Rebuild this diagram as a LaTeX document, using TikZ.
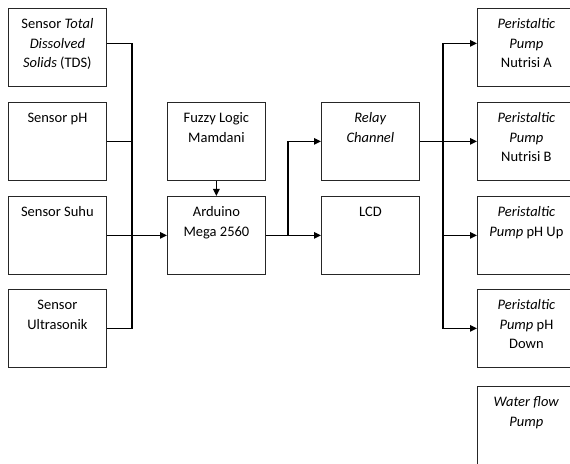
\documentclass[tikz,border=0pt]{standalone}
\usepackage{fontspec}
\setmainfont{Carlito}
\usetikzlibrary{arrows.meta}
\tikzset{
  blok/.style={draw=black!85, line width=0.8pt, inner sep=0pt, anchor=north west},
  garis/.style={line width=1.1pt},
  pijl/.style={line width=1.1pt, -{Triangle[length=7pt,width=6.5pt]}},
}
\newcommand{\isi}[1]{\parbox[c][78pt][t]{98pt}{\centering\fontsize{14.5}{19.5}\selectfont\rule{0pt}{20.5pt}#1}}
\begin{document}
\begin{tikzpicture}[x=1pt, y=1pt]
    \useasboundingbox (0,0) rectangle (570,463);
    \clip (0,0) rectangle (570,463);
    % sensors
    \node[blok] (tds) at (8,455) {\isi{Sensor \textit{Total}\\\textit{Dissolved}\\\textit{Solids} (TDS)}};
    \node[blok] (ph) at (8,361) {\isi{Sensor pH}};
    \node[blok] (suhu) at (8,267) {\isi{Sensor Suhu}};
    \node[blok] (ultra) at (8,174) {\isi{Sensor\\Ultrasonik}};
    % controller
    \node[blok] (fuzzy) at (167,361) {\isi{Fuzzy Logic\\Mamdani}};
    \node[blok] (ard) at (167,267) {\isi{Arduino\\Mega 2560}};
    \node[blok] (relay) at (321,361) {\isi{\textit{Relay}\\\textit{Channel}}};
    \node[blok] (lcd) at (321,267) {\isi{LCD}};
    % actuators
    \node[blok] (p1) at (477,455) {\isi{\textit{Peristaltic}\\\textit{Pump}\\Nutrisi A}};
    \node[blok] (p2) at (477,361) {\isi{\textit{Peristaltic}\\\textit{Pump}\\Nutrisi B}};
    \node[blok] (p3) at (477,267) {\isi{\textit{Peristaltic}\\\textit{Pump} pH Up}};
    \node[blok] (p4) at (477,174) {\isi{\textit{Peristaltic}\\\textit{Pump} pH\\Down}};
    \node[blok] (wf) at (477,77) {\isi{\textit{Water flow}\\\textit{Pump}}};
    \coordinate (bk) at (132,228);
    \coordinate (cab) at (288,228);
    \coordinate (bk2) at (443,322);
    \draw[garis] ([yshift=4pt]tds.east) -| (bk);
    \foreach \s in {ph,ultra} { \draw[garis] (\s.east) -| (bk); }
    \draw[pijl] (suhu.east) -- (ard.west);
    \draw[pijl] (fuzzy.south) -- (ard.north);
    \draw[pijl] (ard.east) -- (lcd.west);
    \draw[pijl] (cab) |- (relay.west);
    \draw[pijl] (relay.east) -- (p2.west);
    \draw[pijl] (bk2) |- ([yshift=4pt]p1.west);
    \foreach \p in {p3,p4} { \draw[pijl] (bk2) |- (\p.west); }
\end{tikzpicture}
\end{document}
